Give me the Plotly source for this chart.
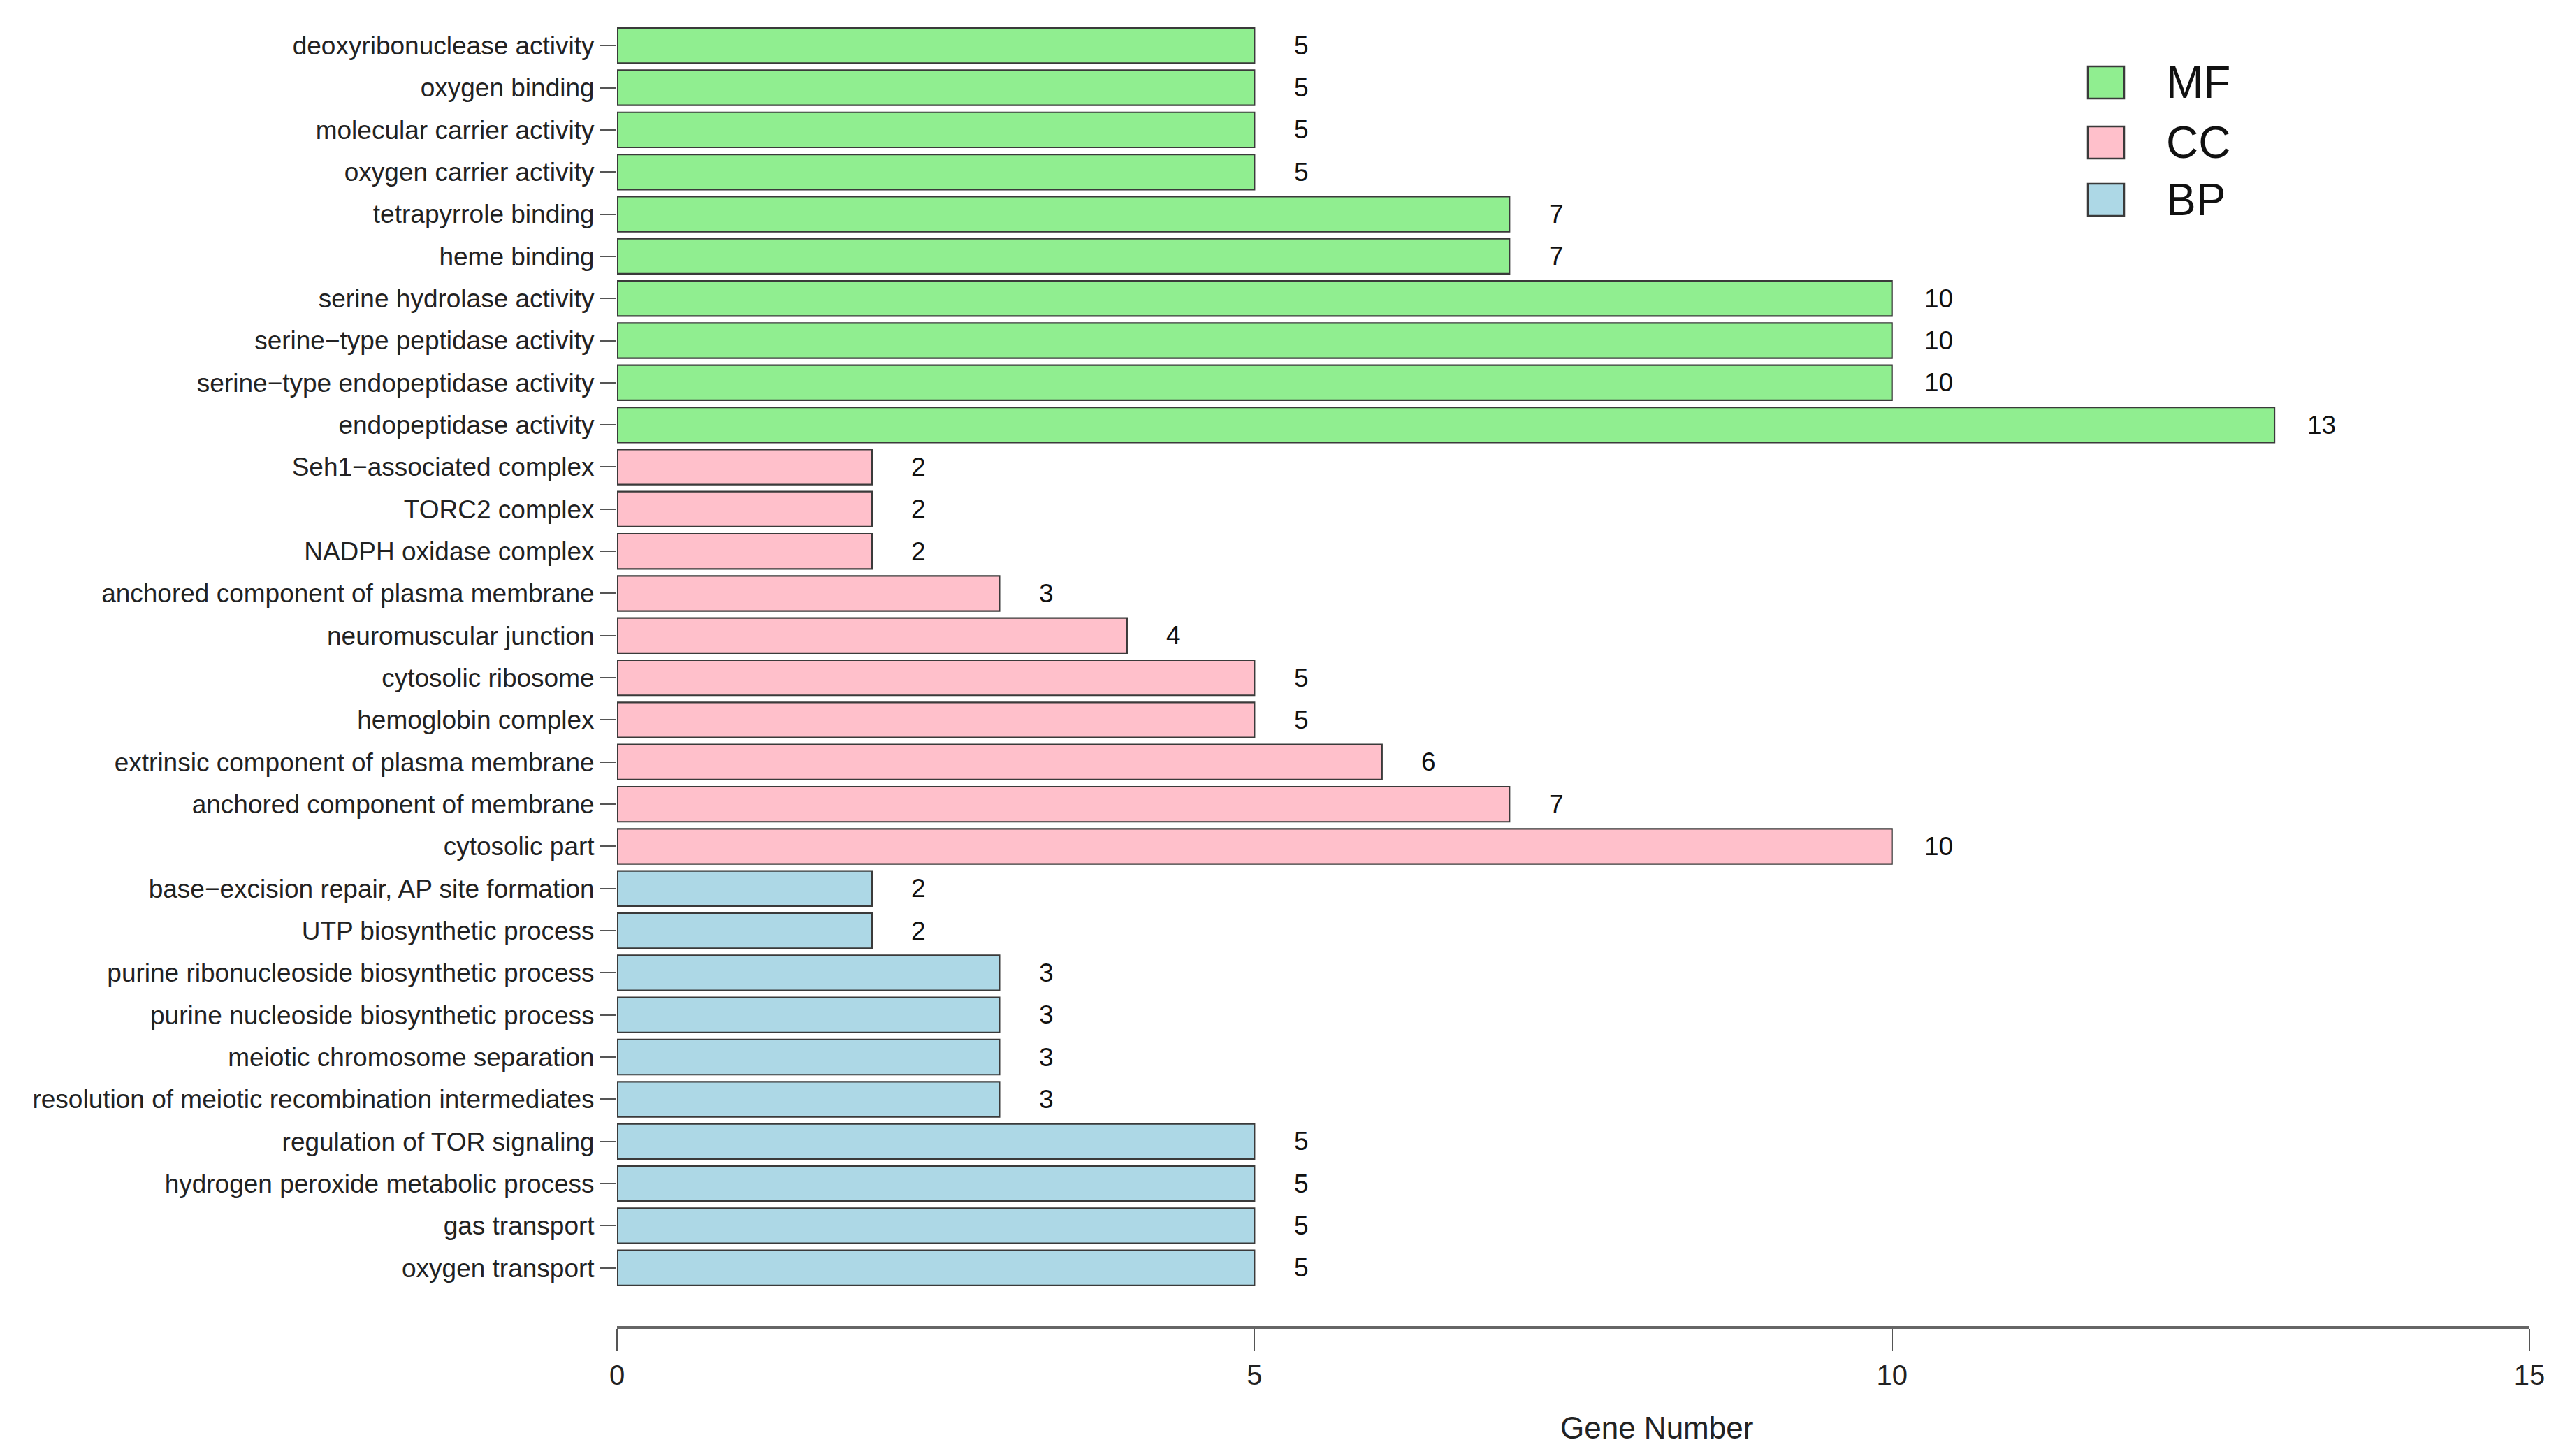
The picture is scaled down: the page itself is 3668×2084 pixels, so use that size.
import plotly.graph_objects as go

# ---- data (top-to-bottom as shown) ----
mf_terms = ["deoxyribonuclease activity", "oxygen binding", "molecular carrier activity",
            "oxygen carrier activity", "tetrapyrrole binding", "heme binding",
            "serine hydrolase activity", "serine\u2212type peptidase activity",
            "serine\u2212type endopeptidase activity", "endopeptidase activity"]
mf_counts = [5, 5, 5, 5, 7, 7, 10, 10, 10, 13]

cc_terms = ["Seh1\u2212associated complex", "TORC2 complex", "NADPH oxidase complex",
            "anchored component of plasma membrane", "neuromuscular junction",
            "cytosolic ribosome", "hemoglobin complex",
            "extrinsic component of plasma membrane", "anchored component of membrane",
            "cytosolic part"]
cc_counts = [2, 2, 2, 3, 4, 5, 5, 6, 7, 10]

bp_terms = ["base\u2212excision repair, AP site formation", "UTP biosynthetic process",
            "purine ribonucleoside biosynthetic process", "purine nucleoside biosynthetic process",
            "meiotic chromosome separation", "resolution of meiotic recombination intermediates",
            "regulation of TOR signaling", "hydrogen peroxide metabolic process",
            "gas transport", "oxygen transport"]
bp_counts = [2, 2, 3, 3, 3, 3, 5, 5, 5, 5]

groups = ["MF", "CC", "BP"]
colors = {"MF": "#90EE90", "CC": "#FFC0CB", "BP": "#ADD8E6"}
x_ticks = [0, 5, 10, 15]

FONT = "Liberation Sans, Arial, sans-serif"

series = {"MF": (mf_terms, mf_counts), "CC": (cc_terms, cc_counts), "BP": (bp_terms, bp_counts)}
all_terms = mf_terms + cc_terms + bp_terms
order_bottom_up = list(reversed(all_terms))

W, H = 3668, 2084
ML, MR, MT, MB = 875, 56, 21, 194

fig = go.Figure()
for g in groups:
    terms, counts = series[g]
    fig.add_trace(go.Bar(
        x=counts, y=terms, orientation="h", name=g,
        marker=dict(color=colors[g], line=dict(color="#3a3a3a", width=2.2)),
        showlegend=False, hoverinfo="x+y",
    ))

def ypaper(py):
    return (H - MB - py) / (H - MB - MT)

def xpaper(px):
    return (px - ML) / (W - ML - MR)

# value labels
annotations = []
for g in groups:
    terms, counts = series[g]
    for t, c in zip(terms, counts):
        annotations.append(dict(x=c, y=t, xref="x", yref="y", text=str(c), showarrow=False,
                                xanchor="center", yanchor="middle", xshift=67,
                                font=dict(family=FONT, size=37, color="#111111")))

# axis title (offset like the original)
annotations.append(dict(x=xpaper(2363), y=ypaper(2036), xref="paper", yref="paper",
                        text="Gene Number", showarrow=False, xanchor="center", yanchor="middle",
                        font=dict(family=FONT, size=44, color="#222222")))

# manual legend
shapes = []
leg_y = [110, 196, 278]
for g, py in zip(groups, leg_y):
    shapes.append(dict(type="rect", xref="paper", yref="paper",
                       x0=xpaper(2980), x1=xpaper(3032),
                       y0=ypaper(py + 23), y1=ypaper(py - 23),
                       fillcolor=colors[g], line=dict(color="#3a3a3a", width=2.5)))
    annotations.append(dict(x=xpaper(3090), y=ypaper(py), xref="paper", yref="paper",
                            text=g, showarrow=False, xanchor="left", yanchor="middle",
                            font=dict(family=FONT, size=64, color="#111111")))

fig.update_layout(
    width=W, height=H,
    margin=dict(l=ML, r=MR, t=MT, b=MB, autoexpand=False),
    paper_bgcolor="white", plot_bgcolor="white",
    bargap=0.167, barmode="overlay",
    font=dict(family=FONT, size=37, color="#222222"),
    shapes=shapes, annotations=annotations,
    xaxis=dict(range=[0, 15], tickvals=x_ticks, ticktext=[str(v) for v in x_ticks],
               showgrid=False, zeroline=False, showline=True, linecolor="#666666", linewidth=4,
               ticks="outside", ticklen=32, tickwidth=2, tickcolor="#555555",
               tickfont=dict(family=FONT, size=40, color="#222222")),
    yaxis=dict(type="category", categoryorder="array", categoryarray=order_bottom_up,
               range=[-1.38, 29.6], showgrid=False, zeroline=False, showline=False,
               ticks="outside", ticklen=24, tickwidth=2, tickcolor="#555555",
               tickfont=dict(family=FONT, size=37, color="#222222")),
)

fig.write_html("out.html")
